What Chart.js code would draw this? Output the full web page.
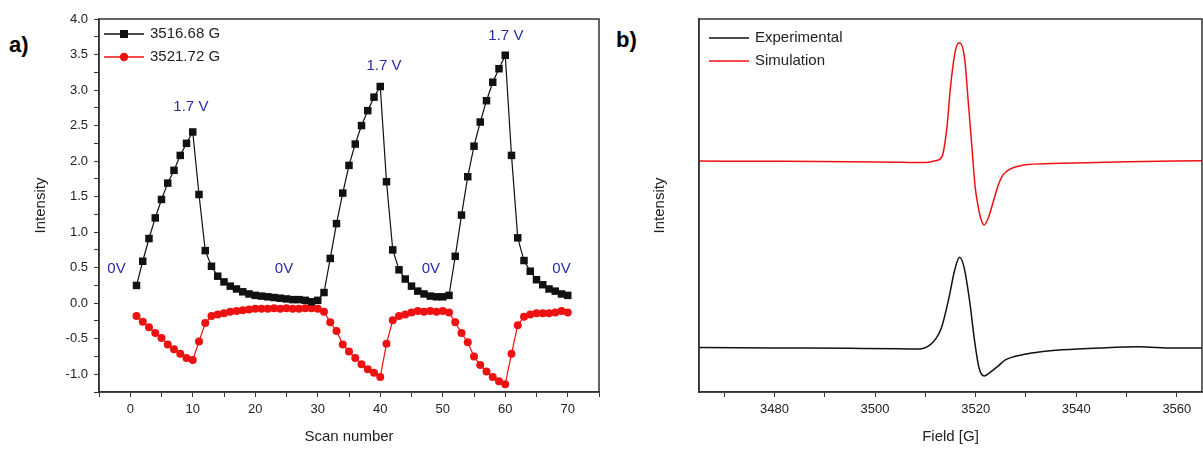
<!DOCTYPE html>
<html>
<head>
<meta charset="utf-8">
<script src="https://cdn.jsdelivr.net/npm/chart.js@4.4.1/dist/chart.umd.min.js"></script>
<style>
  body { margin: 0; background: #fff; width: 1203px; height: 452px; overflow: hidden; position: relative; font-family: "Liberation Sans", Arial, sans-serif; }
  canvas { position: absolute; top: 0; }
  #chartA { left: 0; }
  #chartB { left: 605px; }
  .tag { position: absolute; font-weight: bold; font-size: 22px; line-height: 26px; color: #000; }
</style>
</head>
<body>
<div class="tag" style="left:9px;top:32px">a)</div>
<div class="tag" style="left:616px;top:27px">b)</div>
<canvas id="chartA" width="605" height="452"></canvas>
<canvas id="chartB" width="598" height="452"></canvas>
<script>
// panel a: scan number vs intensity at two field positions
const scanNumbers = [1, 2, 3, 4, 5, 6, 7, 8, 9, 10,
  11, 12, 13, 14, 15, 16, 17, 18, 19, 20,
  21, 22, 23, 24, 25, 26, 27, 28, 29, 30,
  31, 32, 33, 34, 35, 36, 37, 38, 39, 40,
  41, 42, 43, 44, 45, 46, 47, 48, 49, 50,
  51, 52, 53, 54, 55, 56, 57, 58, 59, 60,
  61, 62, 63, 64, 65, 66, 67, 68, 69, 70];
const intensity3516 = [0.25, 0.59, 0.91, 1.20, 1.46, 1.69, 1.87, 2.08, 2.25, 2.41,
  1.53, 0.74, 0.52, 0.38, 0.30, 0.24, 0.20, 0.16, 0.13, 0.11,
  0.10, 0.09, 0.08, 0.07, 0.06, 0.05, 0.05, 0.04, 0.02, 0.04,
  0.15, 0.63, 1.12, 1.55, 1.94, 2.24, 2.50, 2.71, 2.90, 3.05,
  1.71, 0.75, 0.47, 0.34, 0.24, 0.17, 0.13, 0.10, 0.09, 0.09,
  0.11, 0.66, 1.24, 1.78, 2.21, 2.55, 2.85, 3.11, 3.30, 3.49,
  2.08, 0.92, 0.60, 0.45, 0.33, 0.26, 0.20, 0.17, 0.13, 0.11];
const intensity3521 = [-0.18, -0.26, -0.34, -0.42, -0.49, -0.58, -0.65, -0.71, -0.77, -0.80,
  -0.54, -0.28, -0.18, -0.16, -0.14, -0.12, -0.11, -0.10, -0.09, -0.08,
  -0.08, -0.08, -0.07, -0.08, -0.07, -0.08, -0.08, -0.07, -0.07, -0.08,
  -0.12, -0.27, -0.39, -0.58, -0.68, -0.77, -0.86, -0.93, -0.98, -1.04,
  -0.57, -0.24, -0.18, -0.16, -0.13, -0.11, -0.12, -0.11, -0.12, -0.11,
  -0.13, -0.27, -0.42, -0.55, -0.75, -0.87, -0.96, -1.04, -1.10, -1.14,
  -0.71, -0.31, -0.19, -0.16, -0.14, -0.14, -0.14, -0.13, -0.11, -0.13];
const seriesNamesA = ['3516.68 G', '3521.72 G'];
const scanTicks = [0, 10, 20, 30, 40, 50, 60, 70];
const scanMinorTicks = [-5, 5, 15, 25, 35, 45, 55, 65, 75];
const intensityTicks = [-1.0, -0.5, 0.0, 0.5, 1.0, 1.5, 2.0, 2.5, 3.0, 3.5, 4.0];
const intensityMinorTicks = [-1.25, -0.75, -0.25, 0.25, 0.75, 1.25, 1.75, 2.25, 2.75, 3.25, 3.75];
// voltage notes: text, scan number, intensity
const noteText = ['1.7 V', '1.7 V', '1.7 V', '0V', '0V', '0V', '0V'];
const noteX = [9.7, 40.6, 60.1, -2.2, 24.6, 48.1, 69.0];
const noteY = [2.77, 3.34, 3.76, 0.48, 0.48, 0.48, 0.48];

// panel b: EPR spectra (arbitrary intensity, simulation shifted up)
const fieldExp = [3465, 3480, 3495, 3505, 3508.7, 3511, 3512.2, 3513.2, 3514.7, 3515.8, 3516.8, 3517.7,
  3518.8, 3519.8, 3520.7, 3521.7, 3523, 3524.5, 3525.9, 3529.7, 3533, 3537.2, 3544.7, 3552.2, 3559.6, 3565];
const intensityExp = [11.9, 11.8, 11.7, 11.6, 11.5, 12.7, 14.5, 17.2, 25.3, 32.5, 36.1, 33.4,
  24.4, 13.6, 6.3, 4.3, 5.4, 7.0, 8.6, 10.1, 10.8, 11.3, 11.8, 12.1, 11.8, 11.8];
const fieldSim = [3465, 3480, 3495, 3505, 3510, 3512, 3513.3, 3514.3, 3515, 3516, 3516.8, 3517.8, 3518.5,
  3519.3, 3519.9, 3520.4, 3521, 3521.7, 3522.5, 3523.6, 3524.3, 3525.2, 3526.2, 3527.2, 3530.5, 3537, 3550, 3565];
const intensitySim = [61.9, 61.85, 61.75, 61.6, 61.5, 62.0, 63.1, 71.1, 81.8, 91.7, 93.6, 89.5, 78.3,
  64.9, 55.0, 50.5, 46.6, 44.8, 46.6, 51.5, 54.7, 57.7, 59.2, 60.0, 61.0, 61.3, 61.7, 62.0];
const seriesNamesB = ['Experimental', 'Simulation'];
const fieldTicks = [3480, 3500, 3520, 3540, 3560];
const fieldMinorTicks = [3470, 3490, 3510, 3530, 3550];

Chart.defaults.font.family = '"Liberation Sans", Arial, sans-serif';
Chart.defaults.color = '#222';

const BLACK = '#111';
const RED = '#ee1111';
const NOTE = '#2b2ba6';

function pts(xs, ys) {
  return xs.map((x, i) => ({ x: x, y: ys[i] }));
}

// major ticks get a label, minor ticks only a mark
function setTicks(major, minor) {
  return function (scale) {
    const all = major.map(v => ({ value: v, major: true }))
      .concat(minor.map(v => ({ value: v, major: false })));
    all.sort((a, b) => a.value - b.value);
    scale.ticks = all;
  };
}

// full box round the plot
const frame = {
  id: 'frame',
  afterDraw(chart) {
    const { ctx, chartArea: a } = chart;
    ctx.save();
    ctx.strokeStyle = '#333';
    ctx.lineWidth = 1.5;
    ctx.strokeRect(a.left, a.top, a.right - a.left, a.bottom - a.top);
    ctx.restore();
  }
};

function drawLegend(ctx, items, x0, y0) {
  ctx.save();
  ctx.font = '15px "Liberation Sans", Arial, sans-serif';
  ctx.textBaseline = 'middle';
  items.forEach((it, i) => {
    const y = y0 + i * 23;
    ctx.strokeStyle = it.color;
    ctx.lineWidth = 1.5;
    ctx.beginPath();
    ctx.moveTo(x0, y);
    ctx.lineTo(x0 + 40, y);
    ctx.stroke();
    ctx.fillStyle = it.color;
    if (it.marker === 'rect') {
      ctx.fillRect(x0 + 20 - 4, y - 4, 8, 8);
    } else if (it.marker === 'circle') {
      ctx.beginPath();
      ctx.arc(x0 + 20, y, 4.2, 0, Math.PI * 2);
      ctx.fill();
    }
    ctx.fillStyle = '#222';
    ctx.fillText(it.label, x0 + 46, y);
  });
  ctx.restore();
}

const notesA = {
  id: 'notesA',
  afterDatasetsDraw(chart) {
    const { ctx, scales: { x, y } } = chart;
    ctx.save();
    ctx.font = '15px "Liberation Sans", Arial, sans-serif';
    ctx.fillStyle = NOTE;
    ctx.textAlign = 'center';
    ctx.textBaseline = 'middle';
    noteText.forEach((t, i) => {
      ctx.fillText(t, x.getPixelForValue(noteX[i]), y.getPixelForValue(noteY[i]));
    });
    ctx.restore();
    drawLegend(ctx, [
      { label: seriesNamesA[0], color: BLACK, marker: 'rect' },
      { label: seriesNamesA[1], color: RED, marker: 'circle' }
    ], 104, 34);
  }
};

const legendB = {
  id: 'legendB',
  afterDatasetsDraw(chart) {
    drawLegend(chart.ctx, [
      { label: seriesNamesB[0], color: BLACK },
      { label: seriesNamesB[1], color: RED }
    ], 104, 38);
  }
};

function axisX(min, max, major, minor, title) {
  return {
    type: 'linear',
    min: min,
    max: max,
    afterBuildTicks: setTicks(major, minor),
    ticks: {
      autoSkip: false,
      maxRotation: 0,
      padding: 5,
      color: '#222',
      font: { size: 13 },
      callback: function (v, i, ticks) { return ticks[i].major ? v : ''; }
    },
    grid: { drawOnChartArea: false, tickLength: 5, color: '#333' },
    border: { color: '#333', width: 1.5 },
    title: { display: true, text: title, color: '#222', font: { size: 15 }, padding: { top: 0, bottom: 4 } },
    afterFit(s) { s.height = 58; }
  };
}

new Chart(document.getElementById('chartA'), {
  type: 'line',
  data: {
    datasets: [{
      label: seriesNamesA[0],
      data: pts(scanNumbers, intensity3516),
      borderColor: BLACK,
      backgroundColor: BLACK,
      borderWidth: 1.2,
      pointStyle: 'rect',
      pointRadius: 5.3,
      pointBorderWidth: 0
    }, {
      label: seriesNamesA[1],
      data: pts(scanNumbers, intensity3521),
      borderColor: RED,
      backgroundColor: RED,
      borderWidth: 1.2,
      pointStyle: 'circle',
      pointRadius: 4,
      pointBorderWidth: 0
    }]
  },
  options: {
    responsive: false,
    animation: false,
    layout: { padding: { left: 28, right: 6, top: 19, bottom: 2 } },
    plugins: { legend: { display: false }, tooltip: { enabled: false } },
    scales: {
      x: axisX(-5, 75, scanTicks, scanMinorTicks, 'Scan number'),
      y: {
        type: 'linear',
        min: -1.25,
        max: 4.0,
        afterBuildTicks: setTicks(intensityTicks, intensityMinorTicks),
        ticks: {
          autoSkip: false,
          padding: 6,
          color: '#222',
          font: { size: 13 },
          callback: function (v, i, ticks) { return ticks[i].major ? v.toFixed(1) : ''; }
        },
        grid: { drawOnChartArea: false, tickLength: 5, color: '#333' },
        border: { color: '#333', width: 1.5 },
        title: { display: true, text: 'Intensity', color: '#222', font: { size: 15 }, padding: { top: 4, bottom: 0 } },
        afterFit(s) { s.width = 71; }
      }
    }
  },
  plugins: [frame, notesA]
});

new Chart(document.getElementById('chartB'), {
  type: 'line',
  data: {
    datasets: [{
      label: seriesNamesB[0],
      data: pts(fieldExp, intensityExp),
      borderColor: BLACK,
      borderWidth: 1.5,
      pointRadius: 0,
      cubicInterpolationMode: 'monotone'
    }, {
      label: seriesNamesB[1],
      data: pts(fieldSim, intensitySim),
      borderColor: RED,
      borderWidth: 1.5,
      pointRadius: 0,
      cubicInterpolationMode: 'monotone'
    }]
  },
  options: {
    responsive: false,
    animation: false,
    layout: { padding: { left: 42, right: 1, top: 19, bottom: 2 } },
    plugins: { legend: { display: false }, tooltip: { enabled: false } },
    scales: {
      x: axisX(3465, 3565, fieldTicks, fieldMinorTicks, 'Field [G]'),
      y: {
        type: 'linear',
        min: 0,
        max: 100,
        ticks: { display: false },
        grid: { display: false },
        border: { color: '#333', width: 1.5 },
        title: { display: true, text: 'Intensity', color: '#222', font: { size: 15 }, padding: { top: 4, bottom: 0 } },
        afterFit(s) { s.width = 52; }
      }
    }
  },
  plugins: [frame, legendB]
});
</script>
</body>
</html>
